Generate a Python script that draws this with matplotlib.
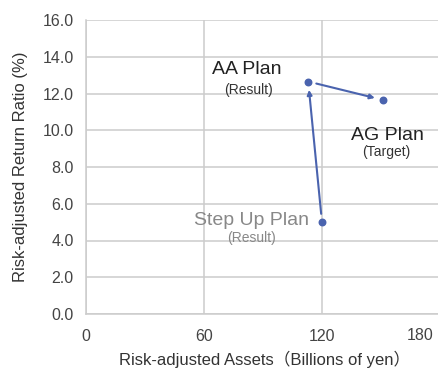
import matplotlib
matplotlib.use("Agg")
import matplotlib.pyplot as plt
from matplotlib.transforms import blended_transform_factory

plt.rcParams['font.family'] = ['Liberation Sans', 'Noto Sans CJK JP', 'DejaVu Sans']

# Data
plan_names = ["Step Up Plan", "AA Plan", "AG Plan"]
plan_notes = ["(Result)", "(Result)", "(Target)"]
assets = [120, 113, 151]          # billions of yen
returns = [5.0, 12.65, 11.65]     # %
xticks = [0, 60, 120]
xtick_labels = ["0", "60", "120"]
extra_tick_label = "180"
yticks = [0, 2, 4, 6, 8, 10, 12, 14, 16]

blue = "#4a63ae"

fig = plt.figure(figsize=(4.38, 3.70), dpi=100)
ax = fig.add_axes([86/438, (370-314)/370, 1 - 86/438, (314-20)/370])
ax.set_xlim(0, 179)
ax.set_ylim(0, 16)
ax.set_xticks(xticks)
ax.set_xticklabels(xtick_labels)
ax.set_yticks(yticks)
ax.set_yticklabels([f"{v:.1f}" for v in yticks])
ax.grid(True, color="#cccccc", linewidth=1.1)
ax.set_axisbelow(True)
for s in ["top", "right"]:
    ax.spines[s].set_visible(False)
for s in ["left", "bottom"]:
    ax.spines[s].set_color("#cccccc")
    ax.spines[s].set_linewidth(1.1)
ax.tick_params(axis="both", length=0, labelsize=11.5, labelcolor="#444444")
ax.tick_params(axis="x", pad=11)
ax.tick_params(axis="y", pad=9)

trans = blended_transform_factory(ax.transData, ax.transAxes)
ax.text(169.8, -22/294, extra_tick_label, transform=trans, ha="center", va="center",
        fontsize=11.5, color="#444444")

ax.set_xlabel("Risk-adjusted Assets（Billions of yen）", fontsize=12, color="#333333")
ax.xaxis.set_label_coords(0.507, -37/294)
ax.set_ylabel("Risk-adjusted Return Ratio (%)", fontsize=12, color="#333333")
ax.yaxis.set_label_coords(-58/352, 0.5)

ax.scatter(assets, returns, s=22, color=blue, zorder=3, clip_on=False)

# arrows: Step Up -> AA, AA -> AG
for i, j in [(0, 1), (1, 2)]:
    ax.annotate("", xy=(assets[j], returns[j]), xytext=(assets[i], returns[i]),
                arrowprops=dict(arrowstyle="-|>", color=blue, lw=1.5,
                                mutation_scale=7, shrinkA=6, shrinkB=6), zorder=2)

# labels (data coordinates)
label_pos = {
    "Step Up Plan": ((84.4, 5.11), (84.4, 4.13), "#888888", "#888888"),
    "AA Plan": ((81.8, 13.33), (82.8, 12.19), "#222222", "#333333"),
    "AG Plan": ((153.1, 9.74), (152.6, 8.82), "#222222", "#333333"),
}
for name, note in zip(plan_names, plan_notes):
    p1, p2, c1, c2 = label_pos[name]
    ax.text(p1[0], p1[1], name, ha="center", va="center", fontsize=14, color=c1)
    ax.text(p2[0], p2[1], note, ha="center", va="center", fontsize=10, color=c2)

fig.savefig("out.png", dpi=100)
